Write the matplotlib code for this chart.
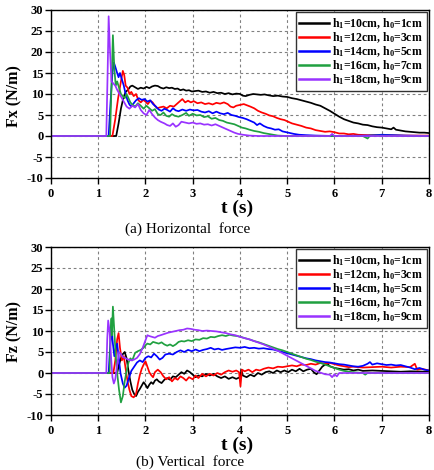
import numpy as np
import matplotlib
matplotlib.use("Agg")
import matplotlib.pyplot as plt

# ---------------- data ----------------
labels = [r"h$_\mathbf{1}$=10cm, h$_\mathbf{0}$=1cm", r"h$_\mathbf{1}$=12cm, h$_\mathbf{0}$=3cm",
          r"h$_\mathbf{1}$=14cm, h$_\mathbf{0}$=5cm", r"h$_\mathbf{1}$=16cm, h$_\mathbf{0}$=7cm",
          r"h$_\mathbf{1}$=18cm, h$_\mathbf{0}$=9cm"]
colors = ["#000000", "#ff0000", "#0000ff", "#20a040", "#9933ff"]
xticks = [0, 1, 2, 3, 4, 5, 6, 7, 8]
yticks = [-10, -5, 0, 5, 10, 15, 20, 25, 30]

fx_h10 = [(0,0),(1.38,0),(1.43,3),(1.48,6.5),(1.53,9),(1.58,10.5),(1.63,11),(1.68,11.8),(1.72,12),(1.78,11.6),(1.84,11.2),(1.9,11.5),(1.96,11.3),(2.02,11.7),(2.08,11.4),(2.14,11.8),(2.2,12.0),(2.26,11.9),(2.32,11.5),(2.38,11.3),(2.44,11.6),(2.5,11.4),(2.56,11.5),(2.62,11.2),(2.68,11.3),(2.74,10.9),(2.8,11.1),(2.86,10.8),(2.92,10.9),(2.98,10.6),(3.05,10.7),(3.12,10.8),(3.2,10.5),(3.28,10.6),(3.36,10.3),(3.44,10.5),(3.52,10.2),(3.6,10.3),(3.68,10.0),(3.76,10.2),(3.84,9.9),(3.92,10.1),(4.0,10.0),(4.06,9.6),(4.12,9.5),(4.2,9.8),(4.28,10.0),(4.36,9.9),(4.44,9.8),(4.52,9.9),(4.6,9.7),(4.7,9.5),(4.8,9.6),(4.9,9.4),(5.0,9.3),(5.1,9.0),(5.2,8.8),(5.3,8.5),(5.4,8.2),(5.5,7.9),(5.6,7.5),(5.7,7.2),(5.8,6.6),(5.9,6.0),(6.0,5.3),(6.1,4.6),(6.2,4.0),(6.3,3.6),(6.4,3.2),(6.5,3.0),(6.6,2.7),(6.7,2.6),(6.8,2.3),(6.9,2.1),(7.0,2.0),(7.1,1.8),(7.2,1.6),(7.25,2.0),(7.3,1.5),(7.4,1.3),(7.5,1.1),(7.6,1.0),(7.7,0.9),(7.8,0.8),(7.9,0.8),(8.0,0.7)]
fx_h12 = [(0,0),(1.3,0),(1.36,4),(1.42,9),(1.48,13),(1.52,15.5),(1.55,14.5),(1.58,12),(1.62,11.5),(1.66,10),(1.7,10.5),(1.75,9.5),(1.8,10),(1.85,8.5),(1.9,8),(1.95,8.6),(2.0,8.2),(2.05,7.6),(2.1,8.4),(2.15,8.0),(2.2,7.2),(2.25,6.6),(2.3,6.8),(2.38,7.0),(2.45,6.6),(2.52,7.2),(2.6,7.0),(2.66,7.6),(2.72,8.2),(2.78,8.8),(2.84,8.0),(2.9,8.4),(2.96,8.0),(3.02,8.3),(3.1,7.8),(3.18,8.0),(3.26,7.6),(3.34,7.8),(3.42,7.5),(3.5,7.9),(3.58,7.7),(3.66,8.0),(3.74,7.6),(3.8,7.0),(3.86,6.8),(3.92,7.2),(4.0,7.4),(4.08,7.6),(4.15,7.3),(4.22,7.0),(4.3,6.6),(4.38,6.0),(4.46,5.6),(4.54,5.3),(4.62,4.9),(4.7,4.7),(4.78,4.3),(4.86,4.0),(4.94,3.8),(5.02,3.4),(5.1,3.0),(5.2,2.7),(5.3,2.4),(5.4,2.0),(5.5,1.8),(5.6,1.4),(5.7,1.2),(5.8,1.0),(5.9,1.1),(6.0,0.9),(6.1,0.6),(6.2,0.6),(6.3,0.4),(6.4,0.5),(6.5,0.3),(6.7,0.2),(7.0,0.2),(7.5,0.1),(8.0,0.1)]
fx_h14 = [(0,0),(1.22,0),(1.26,8),(1.3,15),(1.33,17.5),(1.36,16.5),(1.4,15),(1.43,14),(1.46,15),(1.5,13.5),(1.54,12),(1.58,10),(1.62,8.5),(1.66,7.5),(1.7,7.0),(1.75,7.8),(1.8,8.5),(1.86,9.0),(1.92,8.6),(1.98,8.8),(2.04,8.2),(2.1,8.5),(2.16,7.6),(2.22,7.0),(2.28,6.3),(2.34,6.0),(2.4,6.5),(2.46,6.2),(2.52,5.8),(2.58,6.6),(2.64,6.1),(2.7,5.9),(2.78,6.3),(2.86,6.0),(2.94,6.3),(3.02,6.1),(3.1,6.2),(3.18,5.8),(3.26,5.6),(3.34,5.9),(3.42,5.4),(3.5,5.8),(3.58,5.4),(3.66,5.2),(3.74,5.5),(3.82,5.0),(3.9,4.8),(3.98,4.5),(4.06,4.3),(4.14,4.0),(4.22,3.6),(4.3,3.2),(4.36,2.6),(4.42,3.0),(4.5,2.4),(4.58,2.0),(4.66,1.8),(4.74,1.5),(4.82,1.6),(4.9,1.1),(4.98,0.9),(5.06,0.7),(5.14,0.5),(5.25,0.3),(5.4,0.2),(5.6,0.1),(6.0,0.0),(6.7,0.1),(7.0,0.3),(7.5,0.1),(8.0,0.0)]
fx_h16 = [(0,0),(1.25,0),(1.28,12),(1.31,24),(1.34,16),(1.37,12),(1.4,13),(1.44,11.5),(1.48,10),(1.52,9.5),(1.56,9),(1.6,10),(1.64,9),(1.68,8),(1.72,7.5),(1.78,7),(1.84,7.8),(1.9,7.2),(1.96,6.5),(2.02,7.2),(2.08,6.6),(2.14,6.0),(2.2,6.4),(2.26,5.2),(2.32,5.0),(2.38,5.6),(2.44,4.8),(2.5,4.6),(2.56,5.2),(2.62,4.8),(2.7,4.6),(2.78,5.0),(2.86,5.5),(2.92,4.8),(3.0,5.3),(3.08,4.9),(3.16,5.0),(3.24,4.5),(3.32,4.7),(3.4,4.1),(3.48,4.3),(3.56,3.8),(3.64,3.6),(3.72,3.2),(3.8,3.0),(3.88,2.8),(3.96,2.4),(4.04,2.0),(4.12,1.8),(4.2,1.5),(4.3,1.2),(4.4,1.0),(4.5,0.7),(4.6,0.5),(4.7,0.3),(4.8,0.1),(5.0,0.0),(6.6,0.0),(6.7,-0.6),(6.75,0.1),(8.0,0.0)]
fx_h18 = [(0,0),(1.17,0),(1.2,16),(1.22,28.5),(1.25,20),(1.28,13),(1.32,12.5),(1.36,12),(1.4,11),(1.45,10),(1.5,9),(1.55,8),(1.6,7),(1.66,6.5),(1.72,7.2),(1.78,6.8),(1.84,7.6),(1.9,6.2),(1.96,5.4),(2.02,5.0),(2.08,6.2),(2.14,5.2),(2.2,4.4),(2.26,3.8),(2.32,3.4),(2.4,3.0),(2.46,2.6),(2.52,2.4),(2.58,3.0),(2.64,2.2),(2.7,2.6),(2.76,3.4),(2.84,3.2),(2.92,3.0),(3.0,3.2),(3.08,2.9),(3.16,3.0),(3.24,2.7),(3.32,2.8),(3.4,2.5),(3.48,2.8),(3.56,2.4),(3.64,2.0),(3.72,1.6),(3.8,1.2),(3.88,0.8),(3.96,0.5),(4.06,0.3),(4.2,0.1),(4.4,0.0),(5.9,0.0),(5.95,0.5),(6.0,0.0),(8.0,0.0)]

fz_h10 = [(0,0),(1.4,0),(1.44,2),(1.48,3.5),(1.52,4.5),(1.56,5),(1.6,3.5),(1.64,0.5),(1.68,-2),(1.72,-4),(1.76,-5),(1.8,-5.5),(1.84,-4.5),(1.88,-3.8),(1.92,-3),(1.96,-2.2),(2.0,-2.8),(2.04,-3.6),(2.08,-2.8),(2.12,-2.2),(2.16,-2.6),(2.2,-1.8),(2.24,-1.5),(2.28,-2.0),(2.34,-2.4),(2.4,-1.6),(2.46,-1.2),(2.52,-1.6),(2.58,-0.8),(2.64,-1.0),(2.7,-0.4),(2.76,0.2),(2.82,-0.2),(2.88,0.6),(2.94,0.2),(3.0,-0.4),(3.06,-1.0),(3.12,-0.6),(3.2,-0.8),(3.28,-0.2),(3.36,-0.6),(3.44,-0.2),(3.52,-0.8),(3.6,-1.2),(3.68,-0.8),(3.76,-1.4),(3.84,-1.0),(3.92,-1.4),(4.0,-1.0),(4.03,0.8),(4.06,-0.6),(4.14,-1.0),(4.22,-0.4),(4.3,-0.8),(4.38,0.0),(4.46,-0.4),(4.54,0.2),(4.62,0.4),(4.7,0.0),(4.78,0.6),(4.86,0.2),(4.94,0.6),(5.02,0.2),(5.1,0.8),(5.18,0.4),(5.26,1.0),(5.34,0.4),(5.42,0.8),(5.5,1.0),(5.56,0.2),(5.62,-0.3),(5.68,0.6),(5.74,1.5),(5.8,2.0),(5.85,2.2),(5.9,1.6),(6.0,1.2),(6.1,1.0),(6.2,0.8),(6.3,0.9),(6.4,0.6),(6.5,0.8),(6.6,0.5),(6.8,0.6),(7.0,0.5),(7.2,0.4),(7.4,0.3),(7.6,0.4),(8.0,0.3)]
fz_h12 = [(0,0),(1.32,0),(1.36,3),(1.4,8),(1.43,9.5),(1.46,6),(1.5,3),(1.54,4),(1.58,1),(1.62,-2),(1.66,-4),(1.7,-5.5),(1.75,-5.8),(1.8,-5),(1.84,-2.5),(1.88,-0.5),(1.92,1.0),(1.96,2.0),(2.0,2.8),(2.04,1.5),(2.08,0.2),(2.12,-0.5),(2.16,-1.0),(2.2,0.2),(2.26,0.8),(2.32,0.2),(2.38,-0.8),(2.44,-1.5),(2.5,-1.0),(2.56,-2.0),(2.62,-1.2),(2.68,-1.6),(2.74,-0.8),(2.8,-1.2),(2.86,-1.8),(2.92,-1.0),(3.0,-1.5),(3.06,-0.6),(3.12,-1.2),(3.2,-0.2),(3.28,-0.8),(3.36,-0.2),(3.44,-0.6),(3.52,0.0),(3.6,-0.4),(3.68,0.2),(3.76,0.6),(3.84,0.3),(3.92,0.6),(3.98,0.2),(4.01,-3.2),(4.04,0.8),(4.1,0.4),(4.18,0.8),(4.26,0.2),(4.34,0.8),(4.42,0.6),(4.5,1.0),(4.6,1.3),(4.7,1.1),(4.8,1.5),(4.9,1.4),(5.0,1.6),(5.1,1.8),(5.2,1.6),(5.3,2.0),(5.4,1.9),(5.5,2.2),(5.6,2.0),(5.7,2.4),(5.8,2.2),(5.9,2.4),(6.0,2.1),(6.1,1.8),(6.2,1.6),(6.3,1.4),(6.4,1.5),(6.6,1.3),(6.8,1.4),(7.0,1.5),(7.2,1.3),(7.4,1.5),(7.6,1.4),(7.7,2.2),(7.75,0.8),(7.85,1.0),(8.0,0.6)]
fz_h14 = [(0,0),(1.22,0),(1.25,6),(1.28,10.5),(1.31,7),(1.34,4),(1.37,6),(1.4,7),(1.43,4),(1.47,0),(1.52,-2.5),(1.56,-3.5),(1.6,-3),(1.64,-1.5),(1.7,0.5),(1.76,1.5),(1.82,2.5),(1.88,3.0),(1.94,2.6),(2.0,3.6),(2.06,4.0),(2.12,3.7),(2.18,4.6),(2.24,4.0),(2.3,3.2),(2.36,3.6),(2.42,4.4),(2.5,4.6),(2.58,4.4),(2.66,5.0),(2.74,5.4),(2.82,5.0),(2.9,5.5),(2.98,5.2),(3.06,5.6),(3.14,5.2),(3.22,5.5),(3.3,5.7),(3.38,6.0),(3.46,5.6),(3.54,5.8),(3.62,5.5),(3.7,5.7),(3.8,5.9),(3.9,6.1),(4.0,6.0),(4.1,6.2),(4.2,5.9),(4.3,6.0),(4.4,5.8),(4.5,5.9),(4.6,5.7),(4.7,5.6),(4.8,5.3),(4.9,5.0),(5.0,4.7),(5.1,4.4),(5.2,4.1),(5.3,3.8),(5.4,3.5),(5.5,3.3),(5.6,3.0),(5.7,2.8),(5.8,2.6),(5.9,2.5),(6.0,2.3),(6.1,2.1),(6.2,2.0),(6.3,1.8),(6.4,1.6),(6.5,1.5),(6.6,1.7),(6.7,2.2),(6.75,2.6),(6.8,2.0),(6.9,2.3),(7.0,2.1),(7.1,1.9),(7.2,2.0),(7.3,1.8),(7.4,1.9),(7.5,1.6),(7.6,1.3),(7.7,0.9),(7.8,1.2),(7.9,0.8),(8.0,0.6)]
fz_h16 = [(0,0),(1.24,0),(1.26,9),(1.28,13),(1.29,9),(1.31,15.8),(1.34,10),(1.37,4),(1.4,0),(1.44,-4),(1.48,-7),(1.52,-5.5),(1.56,-2),(1.6,0.5),(1.64,2.5),(1.68,3.5),(1.72,3.0),(1.78,4.8),(1.84,5.2),(1.9,5.5),(1.96,6.0),(2.0,6.6),(2.04,7.0),(2.1,6.8),(2.16,7.4),(2.22,7.2),(2.28,7.0),(2.34,7.3),(2.4,6.8),(2.46,6.5),(2.52,6.8),(2.58,6.4),(2.64,6.8),(2.7,7.4),(2.76,7.6),(2.82,7.5),(2.9,7.8),(2.98,7.6),(3.06,8.0),(3.14,7.9),(3.22,8.3),(3.3,8.2),(3.38,8.6),(3.46,8.5),(3.54,8.8),(3.62,9.0),(3.7,8.8),(3.78,9.1),(3.86,8.9),(3.94,8.8),(4.02,8.6),(4.1,8.3),(4.2,8.0),(4.3,7.6),(4.4,7.3),(4.5,6.9),(4.6,6.5),(4.7,6.1),(4.8,5.7),(4.9,5.4),(5.0,5.0),(5.1,4.6),(5.2,4.2),(5.3,3.8),(5.4,3.4),(5.5,3.1),(5.6,2.7),(5.7,2.4),(5.8,2.0),(5.9,1.6),(6.0,1.2),(6.1,0.8),(6.2,0.5),(6.3,0.3),(6.4,0.2),(6.6,0.0),(6.65,-0.4),(6.7,0.0),(8.0,0.0)]
fz_h18 = [(0,0),(1.17,0),(1.19,8),(1.21,12.5),(1.24,10),(1.27,4),(1.3,-1),(1.33,-2.5),(1.36,-1.5),(1.4,2),(1.44,5),(1.48,4.5),(1.52,3.8),(1.58,3.5),(1.64,3.2),(1.7,3.0),(1.76,3.2),(1.82,3.6),(1.88,4.5),(1.94,6.0),(2.0,7.8),(2.04,9.0),(2.08,8.8),(2.14,8.6),(2.2,8.4),(2.26,8.8),(2.32,9.0),(2.4,9.3),(2.48,9.6),(2.56,9.8),(2.64,10.0),(2.72,10.2),(2.8,10.3),(2.88,10.6),(2.96,10.5),(3.04,10.3),(3.12,10.2),(3.2,10.0),(3.3,10.1),(3.4,10.0),(3.5,9.9),(3.6,9.7),(3.7,9.5),(3.8,9.2),(3.9,9.0),(4.0,8.6),(4.1,8.3),(4.2,8.0),(4.3,7.6),(4.4,7.2),(4.5,6.8),(4.6,6.3),(4.7,5.8),(4.8,5.3),(4.9,4.7),(5.0,4.1),(5.1,3.5),(5.2,2.9),(5.3,2.3),(5.4,1.7),(5.5,1.1),(5.6,0.5),(5.7,0.1),(5.8,-0.3),(5.9,-0.4),(5.95,-1.0),(6.0,-0.3),(6.05,-0.8),(6.1,0.0),(6.3,0.0),(8.0,0.0)]

fx_series = [fx_h10, fx_h12, fx_h14, fx_h16, fx_h18]
fz_series = [fz_h10, fz_h12, fz_h14, fz_h16, fz_h18]

# ---------------- figure ----------------
SERIF = ["Liberation Serif", "DejaVu Serif"]
plt.rcParams["font.family"] = SERIF
plt.rcParams["mathtext.fontset"] = "custom"
plt.rcParams["mathtext.rm"] = "Liberation Serif"
plt.rcParams["mathtext.bf"] = "Liberation Serif:bold"
plt.rcParams["mathtext.default"] = "bf"

fig = plt.figure(figsize=(4.35, 4.70), dpi=100)
W, H = 435.0, 470.0

def make_axes(top_px, bot_px):
    return fig.add_axes([51 / W, 1 - bot_px / H, 378 / W, (bot_px - top_px) / H])

def style(ax, series):
    for s, c, lab in zip(series, colors, labels):
        arr = np.array(s, dtype=float)
        ax.plot(arr[:, 0], arr[:, 1], color=c, lw=1.25, label=lab)
    ax.set_xlim(0, 8)
    ax.set_ylim(-10, 30)
    ax.set_xticks(xticks)
    ax.set_yticks(yticks)
    ax.set_xticklabels([str(v) for v in xticks], fontweight="bold", fontsize=9)
    ax.set_yticklabels([str(v) for v in yticks], fontweight="bold", fontsize=9)
    ax.tick_params(direction="out", length=4, width=1.0, pad=1.5)
    ax.tick_params(axis="x", pad=3)
    ax.grid(True, color="#808080", lw=0.8, linestyle=(0, (2.5, 2.5)))
    for sp in ax.spines.values():
        sp.set_linewidth(1.0)
    leg = ax.legend(loc="upper right", prop={"weight": "bold", "family": SERIF, "size": 8.5},
                    frameon=True, fancybox=False, edgecolor="#333333", framealpha=1,
                    handlelength=2.5, handletextpad=0.3, labelspacing=-0.05,
                    borderpad=0.3, borderaxespad=0.2)
    leg.get_frame().set_linewidth(1.0)
    for ln in leg.get_lines():
        ln.set_linewidth(1.8)

ax1 = make_axes(10, 178)
style(ax1, fx_series)
ax2 = make_axes(247, 415)
style(ax2, fz_series)

# labels
fig.text(14 / W, 1 - 96 / H, "Fx (N/m)", rotation=90, ha="center", va="center",
         fontsize=11.5, fontweight="bold")
fig.text(14 / W, 1 - 332 / H, "Fz (N/m)", rotation=90, ha="center", va="center",
         fontsize=11.5, fontweight="bold")
fig.text(237 / W, 1 - 208 / H, "t (s)", ha="center", va="center", fontsize=14, fontweight="bold")
fig.text(237 / W, 1 - 445 / H, "t (s)", ha="center", va="center", fontsize=14, fontweight="bold")
fig.text(188 / W, 1 - 229 / H, "(a) Horizontal  force", ha="center", va="center", fontsize=11)
fig.text(190 / W, 1 - 462 / H, "(b) Vertical  force", ha="center", va="center", fontsize=11)

fig.savefig("out.png", dpi=100)
